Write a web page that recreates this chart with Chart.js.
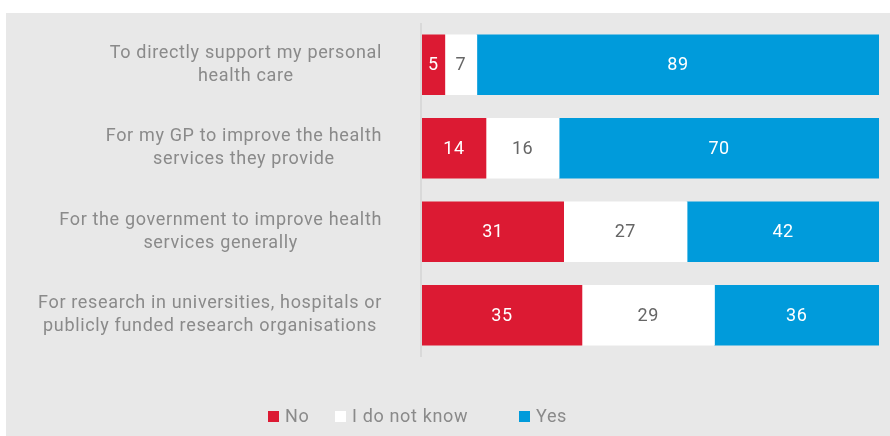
<!DOCTYPE html>
<html>
<head>
<meta charset="utf-8">
<script src="https://cdn.jsdelivr.net/npm/chart.js@4"></script>
<style>
  html, body { margin: 0; padding: 0; background: #ffffff; width: 890px; height: 436px; overflow: hidden; }
  #panel { position: absolute; left: 6px; top: 13px; width: 884px; height: 423px; background: #e8e8e8; }
  canvas { display: block; }
</style>
</head>
<body>
<div id="panel"><canvas id="c" width="884" height="423"></canvas></div>
<script>
const categories = [
  ["To directly support my personal", "health care"],
  ["For my GP to improve the health", "services they provide"],
  ["For the government to improve health", "services generally"],
  ["For research in universities, hospitals or", "publicly funded research organisations"]
];
const seriesNames = ["No", "I do not know", "Yes"];
const noValues = [5, 14, 31, 35];
const dontKnowValues = [7, 16, 27, 29];
const yesValues = [89, 70, 42, 36];

const colors = ["#dc1a33", "#ffffff", "#009bdb"];
const valueTextColors = ["#ffffff", "#666666", "#ffffff"];
const FONT = "Roboto, 'Liberation Sans', sans-serif";

const overlay = {
  id: "overlay",
  afterDatasetsDraw(chart) {
    const ctx = chart.ctx;
    const area = chart.chartArea;
    const yScale = chart.scales.y;
    ctx.save();
    // axis line
    ctx.strokeStyle = "#d4d4d4";
    ctx.lineWidth = 1.5;
    ctx.beginPath();
    ctx.moveTo(area.left - 1, area.top);
    ctx.lineTo(area.left - 1, area.bottom);
    ctx.stroke();

    // category labels: block right-aligned, lines centered in block
    ctx.font = "18px " + FONT;
    ctx.letterSpacing = "0.65px";
    ctx.fillStyle = "#8a8a8a";
    ctx.textAlign = "center";
    ctx.textBaseline = "middle";
    const rightEdge = area.left - 40;
    const lineH = 23;
    categories.forEach((lines, i) => {
      const yc = yScale.getPixelForValue(i);
      const w = Math.max(...lines.map(l => ctx.measureText(l).width));
      const cx = rightEdge - w / 2;
      lines.forEach((l, k) => {
        ctx.fillText(l, cx, yc + (k - (lines.length - 1) / 2) * lineH);
      });
    });

    // value labels
    ctx.letterSpacing = "0.5px";
    chart.data.datasets.forEach((ds, di) => {
      const meta = chart.getDatasetMeta(di);
      meta.data.forEach((bar, i) => {
        const left = Math.max(Math.min(bar.x, bar.base), area.left);
        const right = Math.min(Math.max(bar.x, bar.base), area.right);
        ctx.fillStyle = valueTextColors[di];
        ctx.fillText(String(ds.data[i]), (left + right) / 2, bar.y + 1);
      });
    });

    // legend
    ctx.letterSpacing = "0.65px";
    const legendX = [262, 329, 513];
    const ly = 403;
    ctx.textAlign = "left";
    chart.data.datasets.forEach((ds, di) => {
      const x = legendX[di];
      ctx.fillStyle = colors[di];
      ctx.fillRect(x, ly - 5, 11, 11);
      ctx.fillStyle = "#8a8a8a";
      ctx.fillText(ds.label, x + 17, ly + 1);
    });
    ctx.restore();
  }
};

new Chart(document.getElementById("c"), {
  type: "bar",
  data: {
    labels: categories,
    datasets: [
      { label: seriesNames[0], data: noValues, backgroundColor: colors[0] },
      { label: seriesNames[1], data: dontKnowValues, backgroundColor: colors[1] },
      { label: seriesNames[2], data: yesValues, backgroundColor: colors[2] }
    ]
  },
  options: {
    indexAxis: "y",
    responsive: false,
    animation: false,
    events: [],
    layout: { padding: { left: 416, right: 11, top: 10, bottom: 79 } },
    datasets: { bar: { barThickness: 60, borderWidth: 0 } },
    scales: {
      x: { stacked: true, min: 0, max: 100, display: false },
      y: { stacked: true, display: false }
    },
    plugins: { legend: { display: false }, tooltip: { enabled: false } }
  },
  plugins: [overlay]
});
</script>
</body>
</html>
